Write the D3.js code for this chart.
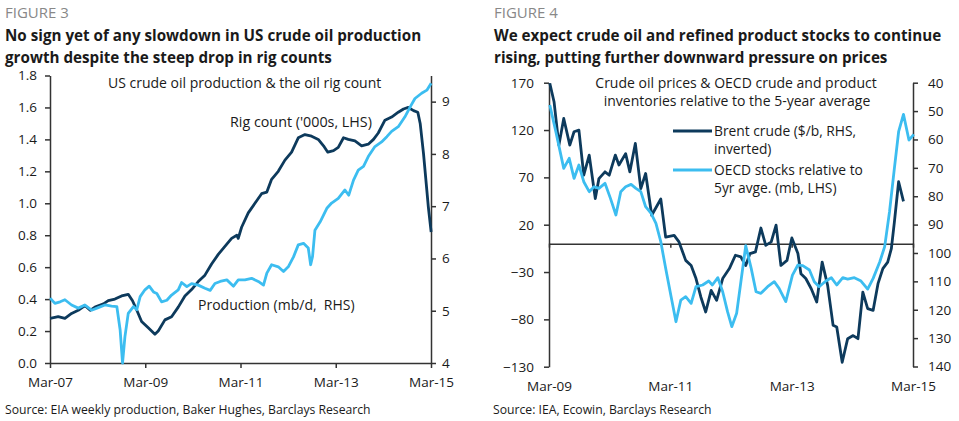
<!DOCTYPE html>
<html><head><meta charset="utf-8">
<script src="https://cdn.jsdelivr.net/npm/d3@7"></script>
<style>body{margin:0;background:#fff} svg{display:block} text{font-family:"Open Sans",sans-serif}</style>
</head><body><svg id="c" width="959" height="421"></svg>
<script>
// ---------- Figure 3 data (dates as decimal years) ----------
const rigDates = [2007.17,2007.34,2007.48,2007.62,2007.76,2007.90,2008.01,2008.11,2008.29,2008.39,2008.53,2008.67,2008.81,2008.90,2008.99,2009.09,2009.23,2009.37,2009.44,2009.58,2009.72,2009.86,2010.00,2010.14,2010.28,2010.42,2010.56,2010.70,2010.84,2010.98,2011.09,2011.12,2011.19,2011.33,2011.47,2011.61,2011.72,2011.82,2011.96,2012.10,2012.24,2012.38,2012.52,2012.66,2012.80,2012.91,2013.00,2013.12,2013.22,2013.33,2013.43,2013.57,2013.71,2013.85,2013.96,2014.06,2014.20,2014.34,2014.48,2014.59,2014.69,2014.80,2014.89,2014.94,2015.01,2015.08,2015.11,2015.17];
const rigValues = [0.28,0.29,0.28,0.31,0.33,0.36,0.33,0.35,0.37,0.39,0.40,0.42,0.43,0.39,0.33,0.26,0.22,0.18,0.20,0.27,0.29,0.35,0.42,0.46,0.51,0.55,0.62,0.68,0.73,0.78,0.80,0.78,0.85,0.94,1.00,1.06,1.07,1.15,1.20,1.27,1.32,1.41,1.43,1.42,1.40,1.36,1.32,1.33,1.35,1.41,1.40,1.39,1.36,1.37,1.40,1.44,1.52,1.54,1.57,1.59,1.60,1.58,1.57,1.50,1.31,1.08,0.98,0.82];
const prodDates = [2007.17,2007.27,2007.38,2007.48,2007.62,2007.76,2007.90,2008.04,2008.18,2008.32,2008.46,2008.57,2008.64,2008.69,2008.74,2008.81,2008.92,2008.99,2009.06,2009.16,2009.25,2009.34,2009.41,2009.51,2009.62,2009.72,2009.86,2009.93,2010.04,2010.14,2010.28,2010.42,2010.53,2010.63,2010.74,2010.88,2011.02,2011.12,2011.26,2011.40,2011.54,2011.65,2011.72,2011.82,2011.96,2012.07,2012.17,2012.28,2012.38,2012.49,2012.59,2012.64,2012.68,2012.73,2012.84,2012.98,2013.08,2013.22,2013.36,2013.44,2013.54,2013.64,2013.75,2013.85,2013.99,2014.13,2014.24,2014.34,2014.48,2014.62,2014.73,2014.83,2014.97,2015.08,2015.17];
const prodValues = [5.24,5.14,5.17,5.21,5.11,5.05,5.11,5.01,5.06,5.11,5.09,5.08,4.63,4.00,4.50,4.95,5.08,5.02,5.27,5.40,5.47,5.36,5.33,5.17,5.20,5.30,5.40,5.54,5.46,5.52,5.49,5.43,5.39,5.52,5.56,5.59,5.47,5.59,5.59,5.62,5.56,5.49,5.72,5.88,5.84,5.75,5.84,6.03,6.26,6.29,6.20,5.88,6.04,6.54,6.70,6.96,7.06,7.15,7.31,7.21,7.50,7.69,7.76,7.95,8.14,8.23,8.33,8.43,8.52,8.71,8.90,9.06,9.16,9.22,9.35];
const fig3LeftTicks = [0,0.2,0.4,0.6,0.8,1.0,1.2,1.4,1.6,1.8];
const fig3RightTicks = [4,5,6,7,8,9];
const fig3XTicks = [2007.167,2009.167,2011.167,2013.167,2015.167];
const fig3XLabels = ["Mar-07","Mar-09","Mar-11","Mar-13","Mar-15"];

// ---------- Figure 4 data ----------
const brentDates = [2009.18,2009.25,2009.33,2009.41,2009.51,2009.58,2009.66,2009.74,2009.83,2009.93,2009.99,2010.09,2010.16,2010.26,2010.32,2010.43,2010.50,2010.59,2010.68,2010.76,2010.86,2011.01,2011.09,2011.23,2011.31,2011.42,2011.51,2011.59,2011.67,2011.75,2011.84,2011.93,2012.03,2012.14,2012.24,2012.33,2012.41,2012.48,2012.57,2012.66,2012.74,2012.83,2012.91,2012.99,2013.09,2013.17,2013.27,2013.32,2013.40,2013.49,2013.58,2013.67,2013.76,2013.85,2013.91,2014.00,2014.09,2014.18,2014.26,2014.34,2014.42,2014.51,2014.59,2014.67,2014.75,2014.81,2014.86,2014.93,2015.01];
const brentValues = [40.2,46.7,62,52.6,62,57.3,56.7,72.6,65.5,80.8,73.8,71.4,72.6,65.5,69,65,71.4,61.4,77.3,72,86.7,81,94.4,93.8,96.1,102.6,104.4,109,115.5,120.8,113.2,116.7,109,105.5,100.8,101.4,104.4,100.2,99.6,91.2,97.3,96.1,90.2,104.4,102.6,94.7,100.2,107.3,109,112.6,117.3,103.2,111.4,125.5,126.1,138.5,130.2,129.1,130.2,113.8,119.6,120.2,110.8,105.5,103.2,98.5,89.1,74.9,81.8];
const oecdDates = [2009.18,2009.28,2009.41,2009.50,2009.58,2009.66,2009.74,2009.83,2009.91,2009.99,2010.09,2010.18,2010.27,2010.35,2010.43,2010.52,2010.60,2010.68,2010.76,2010.85,2010.93,2011.01,2011.09,2011.18,2011.26,2011.34,2011.42,2011.51,2011.59,2011.70,2011.80,2011.86,2011.95,2012.03,2012.11,2012.18,2012.26,2012.33,2012.41,2012.50,2012.58,2012.66,2012.77,2012.88,2012.96,2013.07,2013.18,2013.27,2013.35,2013.46,2013.54,2013.62,2013.73,2013.82,2013.91,2014.01,2014.09,2014.20,2014.31,2014.42,2014.51,2014.62,2014.70,2014.78,2014.86,2014.93,2015.01,2015.10,2015.18];
const oecdValues = [146.4,118.2,79.5,90.1,68.9,83,65.4,54.9,60.1,58.4,63.7,47.8,30.2,54.9,60.1,62.6,58.4,54.9,39,32,21.4,2,-26.1,-56,-82.5,-59.6,-56,-63.1,-45.5,-43.7,-39.5,-43.7,-36,-50.8,-71.9,-87.7,-73.6,-40.2,-2.2,-26.1,-50.8,-52.5,-45.5,-40.2,-47.2,-61.3,-33.2,-22.6,-23.3,-27.9,-40.2,-45.5,-39.5,-36,-43.7,-36,-37.4,-36,-39.5,-48,-36.7,-19.1,-3.2,33.7,79.5,118.2,136.6,109.4,115.4];
const fig4LeftTicks = [-130,-80,-30,20,70,120,170];
const fig4RightTicks = [40,50,60,70,80,90,100,110,120,130,140];
const fig4XTicks = [2009.167,2011.167,2013.167,2015.167];
const fig4XLabels = ["Mar-09","Mar-11","Mar-13","Mar-15"];

const NAVY = "#0d3a5c", LIGHT = "#3cbdf0", AXIS = "#333", TXT = "#1a1a1a";
const svg = d3.select("#c");
const FS = 13.5;

function styleAxis(g){
  g.attr("font-family", null).attr("font-size", null);
  g.selectAll("path.domain").attr("stroke", AXIS).attr("stroke-width", 1.5);
  g.selectAll(".tick line").attr("stroke", AXIS).attr("stroke-width", 1.5);
  g.selectAll(".tick text").attr("fill", TXT).style("font-size", FS + "px");
}
function addText(x, y, s, opt = {}) {
  return svg.append("text").attr("x", x).attr("y", y).text(s)
    .attr("fill", opt.fill || TXT)
    .attr("text-anchor", opt.anchor || "start")
    .style("font-size", (opt.size || FS) + "px")
    .style("font-weight", opt.weight || "normal");
}

// ---------- Headers ----------
addText(5, 18, "FIGURE 3", {fill: "#888", size: 15});
addText(5, 41, "No sign yet of any slowdown in US crude oil production", {size: 15.2, weight: "bold"});
addText(5, 63, "growth despite the steep drop in rig counts", {size: 15.2, weight: "bold"});
addText(494, 18, "FIGURE 4", {fill: "#888", size: 15});
addText(494, 41, "We expect crude oil and refined product stocks to continue", {size: 15.2, weight: "bold"});
addText(494, 63, "rising, putting further downward pressure on prices", {size: 15.2, weight: "bold"});
addText(5, 414, "Source: EIA weekly production, Baker Hughes, Barclays Research", {size: 12.2});
addText(493, 414, "Source: IEA, Ecowin, Barclays Research", {size: 12.2});

// ---------- Figure 3 ----------
{
  const x = d3.scaleLinear().domain([2007.167, 2015.167]).range([50, 431]);
  const yL = d3.scaleLinear().domain([0, 1.8]).range([363, 75.5]);
  const yR = d3.scaleLinear().domain([4, 9.5]).range([363, 75.5]);

  const gL = svg.append("g").attr("transform", "translate(50,0)")
    .call(d3.axisLeft(yL).tickValues(fig3LeftTicks).tickFormat(d3.format(".1f")).tickSize(5).tickPadding(8).tickSizeOuter(0));
  styleAxis(gL);
  const gR = svg.append("g").attr("transform", "translate(431,0)")
    .call(d3.axisRight(yR).tickValues(fig3RightTicks).tickFormat(d3.format("d")).tickSize(5).tickPadding(6).tickSizeOuter(0));
  styleAxis(gR);
  const gX = svg.append("g").attr("transform", "translate(0,363)")
    .call(d3.axisBottom(x).tickValues(fig3XTicks).tickFormat((d, i) => fig3XLabels[i]).tickSize(5).tickSizeOuter(0));
  styleAxis(gX);
  gX.selectAll(".tick text").attr("y", 24).attr("dy", null);

  const rig = rigDates.map((d, i) => [d, rigValues[i]]);
  const prod = prodDates.map((d, i) => [d, prodValues[i]]);
  svg.append("path").datum(rig).attr("fill", "none").attr("stroke", NAVY).attr("stroke-width", 2.8)
    .attr("stroke-linejoin", "round").attr("d", d3.line().x(d => x(d[0])).y(d => yL(d[1])));
  svg.append("path").datum(prod).attr("fill", "none").attr("stroke", LIGHT).attr("stroke-width", 2.8)
    .attr("stroke-linejoin", "round").attr("d", d3.line().x(d => x(d[0])).y(d => yR(d[1])));

  addText(108, 88, "US crude oil production & the oil rig count", {size: 14});
  addText(230, 127, "Rig count ('000s, LHS)", {size: 14.3});
  addText(198, 310, "Production (mb/d,\u00a0 RHS)", {size: 14});
}

// ---------- Figure 4 ----------
{
  const x = d3.scaleLinear().domain([2009.167, 2015.167]).range([549, 913]);
  const yL = d3.scaleLinear().domain([-130, 170]).range([366.7, 82.7]);
  const yR = d3.scaleLinear().domain([40, 140]).range([82.7, 366.5]);

  const gL = svg.append("g").attr("transform", "translate(549,0)")
    .call(d3.axisLeft(yL).tickValues(fig4LeftTicks).tickFormat(d3.format("d")).tickSize(5).tickPadding(10).tickSizeOuter(0));
  styleAxis(gL);
  const gR = svg.append("g").attr("transform", "translate(913,0)")
    .call(d3.axisRight(yR).tickValues(fig4RightTicks).tickFormat(d3.format("d")).tickSize(5).tickPadding(10).tickSizeOuter(0));
  styleAxis(gR);
  const y0 = yL(0);
  const gX = svg.append("g").attr("transform", `translate(0,${y0})`)
    .call(d3.axisBottom(x).tickValues(fig4XTicks).tickFormat((d, i) => fig4XLabels[i]).tickSize(4).tickSizeOuter(0));
  styleAxis(gX);
  gX.selectAll(".tick text").attr("y", 391 - y0).attr("dy", null);

  const brent = brentDates.map((d, i) => [d, brentValues[i]]);
  const oecd = oecdDates.map((d, i) => [d, oecdValues[i]]);
  svg.append("path").datum(brent).attr("fill", "none").attr("stroke", NAVY).attr("stroke-width", 2.8)
    .attr("stroke-linejoin", "round").attr("d", d3.line().x(d => x(d[0])).y(d => yR(d[1])));
  svg.append("path").datum(oecd).attr("fill", "none").attr("stroke", LIGHT).attr("stroke-width", 2.8)
    .attr("stroke-linejoin", "round").attr("d", d3.line().x(d => x(d[0])).y(d => yL(d[1])));

  addText(736, 88, "Crude oil prices & OECD crude and product", {size: 14, anchor: "middle"});
  addText(737, 106, "inventories relative to the 5-year average", {size: 14, anchor: "middle"});
  svg.append("line").attr("x1", 673).attr("x2", 712).attr("y1", 131).attr("y2", 131).attr("stroke", NAVY).attr("stroke-width", 2.8);
  svg.append("line").attr("x1", 673).attr("x2", 712).attr("y1", 170).attr("y2", 170).attr("stroke", LIGHT).attr("stroke-width", 2.8);
  addText(714, 136, "Brent crude ($/b, RHS,", {size: 13.8});
  addText(714, 154, "inverted)", {size: 13.8});
  addText(714, 175, "OECD stocks relative to", {size: 13.8});
  addText(714, 193, "5yr avge. (mb, LHS)", {size: 13.8});
}
</script></body></html>
